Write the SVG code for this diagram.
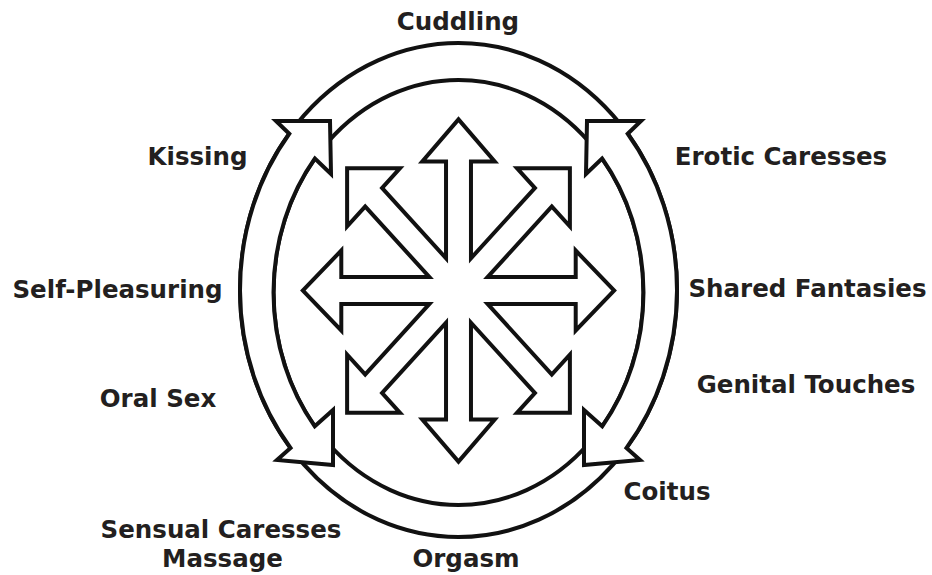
<svg xmlns="http://www.w3.org/2000/svg" width="932" height="575" viewBox="0 0 932 575">
  <style>
    .lbl { font-family: "DejaVu Sans", "Liberation Sans", sans-serif; font-weight: bold; font-size: 24.5px; fill: #231f20; text-anchor: middle; }
    .ring { fill: none; stroke: #111; stroke-width: 4; }
    .arw { fill: #fff; stroke: #111; stroke-width: 4; stroke-linejoin: miter; stroke-miterlimit: 10; }
    .sk { fill: none; stroke: #111; stroke-width: 8; stroke-linejoin: miter; stroke-miterlimit: 10; }
    .sf { fill: #fff; stroke: none; }
  </style>
  <defs>
    <polygon id="ao" points="-11.5,0 -11.5,-131 -35,-131 0,-168 35,-131 11.5,-131 11.5,0" vector-effect="non-scaling-stroke"/>
    <polygon id="ad" points="-11,0 -11,-134 -36,-134 0,-170 36,-134 11,-134 11,0" vector-effect="non-scaling-stroke"/>
  </defs>
  <rect width="932" height="575" fill="#fff"/>

  <g id="connectors">
    <g id="cycle">
      <ellipse class="ring" cx="458.5" cy="290" rx="218.5" ry="247"/>
      <ellipse class="ring" cx="458.5" cy="292.5" rx="185" ry="212.5"/>
      <path id="left-arrow" class="arw" d="M289.26,133.78 L276,121 L330,121 L331,174 L314.92,158.5 A185,212.5 0 0 0 314.77,426.28 L333,410 L333,465 L277,460 L290.51,447.93 A218.5,247 0 0 1 289.26,133.78 Z"/>
      <path id="right-arrow" class="arw" d="M627.74,133.78 L641,121 L587,121 L586,174 L602.08,158.5 A185,212.5 0 0 1 602.23,426.28 L584,410 L584,465 L640,460 L626.49,447.93 A218.5,247 0 0 0 627.74,133.78 Z"/>
    </g>
    <g id="star" transform="translate(458.5,290.5) scale(0.91,1)">
      <g class="sk">
        <use href="#ao"/>
        <use href="#ao" transform="rotate(90)"/>
        <use href="#ao" transform="rotate(180)"/>
        <use href="#ao" transform="rotate(270)"/>
        <use href="#ad" transform="rotate(45)"/>
        <use href="#ad" transform="rotate(135)"/>
        <use href="#ad" transform="rotate(225)"/>
        <use href="#ad" transform="rotate(315)"/>
      </g>
      <g class="sf">
        <use href="#ao"/>
        <use href="#ao" transform="rotate(90)"/>
        <use href="#ao" transform="rotate(180)"/>
        <use href="#ao" transform="rotate(270)"/>
        <use href="#ad" transform="rotate(45)"/>
        <use href="#ad" transform="rotate(135)"/>
        <use href="#ad" transform="rotate(225)"/>
        <use href="#ad" transform="rotate(315)"/>
      </g>
    </g>
  </g>

  <g id="cuddling"><text class="lbl" x="458" y="30">Cuddling</text></g>
  <g id="kissing"><text class="lbl" x="197.5" y="165">Kissing</text></g>
  <g id="self-pleasuring"><text class="lbl" x="117.5" y="298">Self-Pleasuring</text></g>
  <g id="oral-sex"><text class="lbl" x="158" y="407">Oral Sex</text></g>
  <g id="sensual-caresses"><text class="lbl" x="221" y="538">Sensual Caresses</text><text class="lbl" x="222.5" y="567">Massage</text></g>
  <g id="orgasm"><text class="lbl" x="466" y="567">Orgasm</text></g>
  <g id="erotic-caresses"><text class="lbl" x="781" y="165">Erotic Caresses</text></g>
  <g id="shared-fantasies"><text class="lbl" x="807.5" y="297">Shared Fantasies</text></g>
  <g id="genital-touches"><text class="lbl" x="806" y="393">Genital Touches</text></g>
  <g id="coitus"><text class="lbl" x="667" y="500">Coitus</text></g>
</svg>
